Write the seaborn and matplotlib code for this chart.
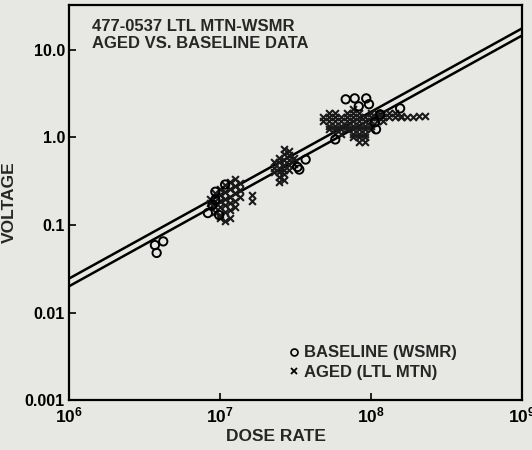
"""
plot.py
Aged vs. baseline voltage response against dose rate (log-log).
"""

import matplotlib
matplotlib.use("Agg")
import matplotlib.pyplot as plt
from matplotlib.lines import Line2D
from matplotlib.ticker import FixedLocator, NullLocator
import seaborn as sns

# ------------------------------------------------------------------------------
# Data
# ------------------------------------------------------------------------------
baseline_dose = [3.7e6, 4.2e6, 3.8e6,
                 8.3e6, 9.3e6, 9.3e6, 9.85e6, 1.08e7, 8.9e6,
                 3.26e7, 3.69e7, 3.35e7,
                 6.8e7, 7.8e7, 9.3e7, 8.3e7, 9.7e7, 5.8e7, 1.08e8, 1.15e8, 1.56e8, 1.06e8]
baseline_voltage = [0.059, 0.065, 0.048,
                    0.137, 0.194, 0.24, 0.13, 0.29, 0.17,
                    0.46, 0.56, 0.43,
                    2.73, 2.8, 2.8, 2.27, 2.4, 0.95, 1.24, 1.84, 2.15, 1.49]

aged_dose = [
    # cluster near 1e7
    8.6e6, 8.6e6,
    9.3e6, 9.3e6, 9.3e6, 9.3e6,
    1.0e7, 1.0e7, 1.0e7, 1.0e7, 1.0e7, 1.0e7,
    1.08e7, 1.08e7, 1.08e7, 1.08e7, 1.08e7, 1.08e7,
    1.17e7, 1.17e7, 1.17e7, 1.17e7, 1.17e7, 1.17e7,
    1.26e7, 1.26e7, 1.26e7, 1.26e7, 1.26e7,
    1.36e7, 1.36e7, 1.36e7,
    1.63e7, 1.63e7,
    # cluster near 2.7e7
    2.29e7, 2.29e7, 2.29e7,
    2.47e7, 2.47e7, 2.47e7, 2.47e7, 2.47e7, 2.47e7,
    2.67e7, 2.67e7, 2.67e7, 2.67e7, 2.67e7, 2.67e7, 2.67e7,
    2.88e7, 2.88e7, 2.88e7, 2.88e7, 2.88e7,
    3.07e7, 3.07e7,
    # cluster near 1e8 and tail
    4.79e7, 4.79e7,
    5.25e7, 5.25e7, 5.25e7, 5.25e7, 5.25e7,
    5.75e7, 5.75e7, 5.75e7, 5.75e7, 5.75e7, 5.75e7,
    6.31e7, 6.31e7, 6.31e7, 6.31e7, 6.31e7,
    6.92e7, 6.92e7, 6.92e7, 6.92e7, 6.92e7,
    7.59e7, 7.59e7, 7.59e7, 7.59e7, 7.59e7, 7.59e7, 7.59e7, 7.59e7,
    8.32e7, 8.32e7, 8.32e7, 8.32e7, 8.32e7, 8.32e7, 8.32e7, 8.32e7,
    9.12e7, 9.12e7, 9.12e7, 9.12e7, 9.12e7, 9.12e7, 9.12e7,
    1.0e8, 1.0e8, 1.0e8, 1.0e8, 1.0e8,
    1.10e8, 1.10e8, 1.10e8,
    1.20e8, 1.20e8, 1.20e8,
    1.32e8, 1.32e8,
    1.45e8, 1.45e8,
    1.58e8, 1.58e8,
    1.74e8, 1.91e8, 2.09e8, 2.29e8,
]
aged_voltage = [
    0.18, 0.20,
    0.16, 0.19, 0.23, 0.14,
    0.13, 0.16, 0.19, 0.22, 0.26, 0.12,
    0.11, 0.14, 0.17, 0.20, 0.24, 0.29,
    0.12, 0.15, 0.18, 0.21, 0.26, 0.31,
    0.16, 0.19, 0.23, 0.28, 0.34,
    0.21, 0.25, 0.30,
    0.19, 0.22,
    0.45, 0.52, 0.40,
    0.35, 0.40, 0.45, 0.52, 0.59, 0.31,
    0.33, 0.38, 0.43, 0.49, 0.56, 0.64, 0.73,
    0.42, 0.48, 0.55, 0.63, 0.70,
    0.50, 0.58,
    1.70, 1.53,
    1.89, 1.70, 1.53, 1.37, 1.24,
    1.89, 1.70, 1.53, 1.37, 1.24, 1.11,
    1.70, 1.53, 1.37, 1.24, 1.11,
    1.89, 1.70, 1.53, 1.37, 1.24,
    2.10, 1.89, 1.70, 1.53, 1.37, 1.24, 1.11, 1.00,
    1.89, 1.70, 1.53, 1.37, 1.24, 1.11, 1.00, 0.90,
    1.70, 1.53, 1.37, 1.24, 1.11, 1.00, 0.90,
    1.89, 1.70, 1.53, 1.37, 1.24,
    1.89, 1.70, 1.53,
    1.89, 1.70, 1.53,
    1.89, 1.70,
    1.89, 1.70,
    1.70, 1.78,
    1.70, 1.70, 1.74, 1.74,
]

# fitted lines (end points)
fit_dose = [1e6, 1e9]
fit_upper = [0.0245, 17.6]
fit_lower = [0.0200, 14.6]

x_ticks = [1e6, 1e7, 1e8, 1e9]
x_tick_labels = ["$10^{6}$", "$10^{7}$", "$10^{8}$", "$10^{9}$"]
y_ticks = [0.001, 0.01, 0.1, 1.0, 10.0]
y_tick_labels = ["0.001", "0.01", "0.1", "1.0", "10.0"]

# ------------------------------------------------------------------------------
# Style
# ------------------------------------------------------------------------------
sns.set_theme(style="white")
PAPER = "#e7e7e3"
plt.rcParams["font.family"] = ["Liberation Sans", "DejaVu Sans"]
plt.rcParams["font.weight"] = "bold"
plt.rcParams["mathtext.fontset"] = "custom"
plt.rcParams["mathtext.rm"] = "Liberation Sans:bold"
plt.rcParams["mathtext.it"] = "Liberation Sans:bold"
plt.rcParams["mathtext.bf"] = "Liberation Sans:bold"

fig = plt.figure(figsize=(5.32, 4.5), dpi=100, facecolor=PAPER)
ax = fig.add_axes([0.130, 0.111, 0.851, 0.878], facecolor=PAPER)
ax.set_xscale("log")
ax.set_yscale("log")

sns.lineplot(x=fit_dose, y=fit_upper, ax=ax, color="black", lw=1.8,
             estimator=None, sort=False)
sns.lineplot(x=fit_dose, y=fit_lower, ax=ax, color="black", lw=1.8,
             estimator=None, sort=False)

sns.scatterplot(x=aged_dose, y=aged_voltage, ax=ax, marker="x", s=24,
                color="#1a1a1a", linewidth=1.5, zorder=3)
sns.scatterplot(x=baseline_dose, y=baseline_voltage, ax=ax, marker="o", s=36,
                facecolor="none", edgecolor="black", linewidth=1.4, zorder=4)

ax.set_xlim(1e6, 1e9)
ax.set_ylim(0.001, 32.7)

ax.xaxis.set_major_locator(FixedLocator(x_ticks))
ax.xaxis.set_minor_locator(NullLocator())
ax.yaxis.set_major_locator(FixedLocator(y_ticks))
ax.yaxis.set_minor_locator(NullLocator())
ax.set_xticklabels(x_tick_labels)
ax.set_yticklabels(y_tick_labels)
ax.tick_params(axis="both", direction="in", length=5, width=1.2,
               labelsize=11.5, colors="black", pad=3, left=True, bottom=True)
ax.tick_params(axis="x", pad=4, labelsize=12.5)

for spine in ax.spines.values():
    spine.set_color("black")
    spine.set_linewidth(1.6)

ax.set_xlabel("DOSE RATE", fontsize=12.5, fontweight="bold")
ax.xaxis.set_label_coords(0.457, -0.074)
ax.xaxis.label.set_va("top")
ax.set_ylabel("VOLTAGE", fontsize=12.5, fontweight="bold", labelpad=6)

ax.text(0.05, 0.965, "477-0537 LTL MTN-WSMR\nAGED VS. BASELINE DATA",
        transform=ax.transAxes, ha="left", va="top", fontsize=12,
        fontweight="bold", linespacing=1.15)

handles = [
    Line2D([], [], marker="o", ls="none", mfc="none", mec="black", ms=5, mew=1.2),
    Line2D([], [], marker="x", ls="none", color="black", ms=4, mew=1.3),
]
ax.legend(handles, ["BASELINE (WSMR)", "AGED (LTL MTN)"], loc="lower left",
          bbox_to_anchor=(0.47, 0.035), frameon=False, fontsize=12,
          handlelength=0.6, handletextpad=0.3, labelspacing=0.25,
          borderaxespad=0)

fig.savefig("out.png", dpi=100, facecolor=PAPER)
